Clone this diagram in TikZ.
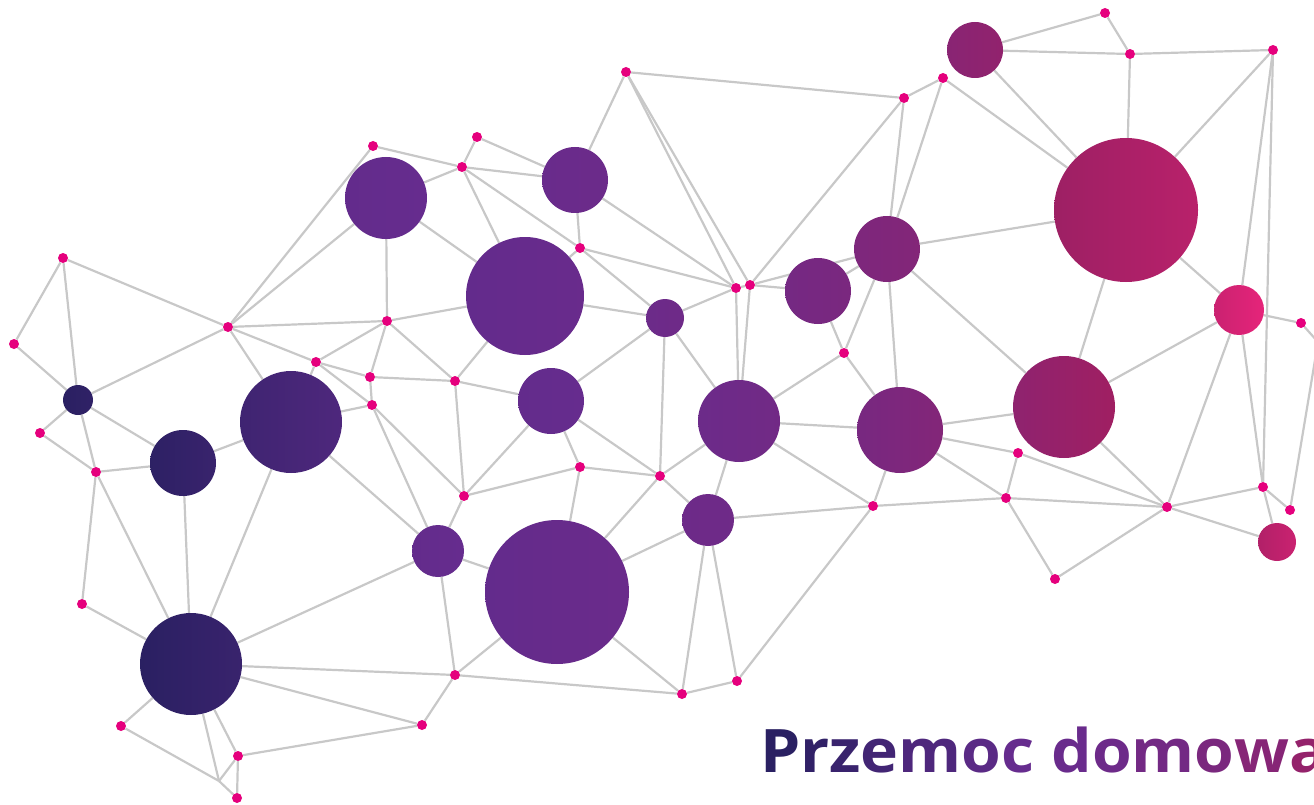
\documentclass[tikz,border=0pt]{standalone}
\usepackage{fontspec}
\newfontfamily\titlefont{Open Sans}
\usetikzlibrary{backgrounds}
\definecolor{dotpink}{HTML}{E5007D}
\definecolor{edgegrey}{HTML}{C8C8C8}
\definecolor{navy}{HTML}{2A2062}
\definecolor{violet}{HTML}{662C8E}
\definecolor{berry}{HTML}{A01F62}
\definecolor{rose}{HTML}{E6247A}

\begin{document}
\begin{tikzpicture}[x=1pt, y=-1pt,
    dot/.style={circle, fill=dotpink, inner sep=0pt, minimum size=10pt},
    hub/.style={circle, inner sep=0pt},
    link/.style={draw=edgegrey, line width=2.2pt}]
  \useasboundingbox (0,0) rectangle (1314,805);

  % hubs
  \node[hub, minimum size=30pt, left color=navy, right color=navy!90!violet] (h1) at (78,400) {};
  \node[hub, minimum size=66pt, left color=navy!95!violet, right color=navy!75!violet] (h2) at (183,463) {};
  \node[hub, minimum size=102pt, left color=navy!65!violet, right color=navy!40!violet] (h3) at (291,422) {};
  \node[hub, minimum size=102pt, left color=navy, right color=navy!75!violet] (h4) at (191,664) {};
  \node[hub, minimum size=82pt, left color=violet!95!navy, right color=violet] (h5) at (386,198) {};
  \node[hub, minimum size=118pt, left color=violet!95!navy, right color=violet!95!berry] (h6) at (525,296) {};
  \node[hub, minimum size=66pt, left color=violet!95!berry, right color=violet!90!berry] (h7) at (575,180) {};
  \node[hub, minimum size=66pt, left color=violet!95!navy, right color=violet] (h8) at (551,401) {};
  \node[hub, minimum size=38pt, left color=violet!90!berry, right color=violet!85!berry] (h9) at (665,318) {};
  \node[hub, minimum size=52pt, left color=violet!95!navy, right color=violet] (h10) at (438,551) {};
  \node[hub, minimum size=144pt, left color=violet!95!navy, right color=violet!92!berry] (h11) at (557,592) {};
  \node[hub, minimum size=52pt, left color=violet!88!berry, right color=violet!85!berry] (h12) at (708,520) {};
  \node[hub, minimum size=82pt, left color=violet!90!berry, right color=violet!80!berry] (h13) at (739,421) {};
  \node[hub, minimum size=66pt, left color=violet!75!berry, right color=violet!65!berry] (h14) at (818,291) {};
  \node[hub, minimum size=66pt, left color=violet!60!berry, right color=violet!50!berry] (h15) at (887,249) {};
  \node[hub, minimum size=86pt, left color=violet!70!berry, right color=violet!50!berry] (h16) at (900,430) {};
  \node[hub, minimum size=56pt, left color=violet!40!berry, right color=violet!25!berry] (h17) at (975,50) {};
  \node[hub, minimum size=144pt, left color=berry!95!violet, right color=berry!65!rose] (h18) at (1126,210) {};
  \node[hub, minimum size=102pt, left color=violet!30!berry, right color=berry] (h19) at (1064,407) {};
  \node[hub, minimum size=50pt, left color=berry!40!rose, right color=rose] (h20) at (1239,310) {};
  \node[hub, minimum size=38pt, left color=berry!75!rose, right color=berry!40!rose] (h21) at (1277,542) {};

  % small points
  \node[dot] (p1) at (63,258) {};
  \node[dot] (p2) at (14,344) {};
  \node[dot] (p3) at (228,327) {};
  \node[dot] (p4) at (387,321) {};
  \node[dot] (p5) at (316,362) {};
  \node[dot] (p6) at (370,377) {};
  \node[dot] (p7) at (372,405) {};
  \node[dot] (p8) at (40,433) {};
  \node[dot] (p9) at (96,472) {};
  \node[dot] (p10) at (82,604) {};
  \node[dot] (p11) at (121,726) {};
  \node[dot] (p12) at (238,756) {};
  \node[dot] (p13) at (237,798) {};
  \node[dot] (p14) at (455,675) {};
  \node[dot] (p15) at (422,725) {};
  \node[dot] (p16) at (373,146) {};
  \node[dot] (p17) at (477,137) {};
  \node[dot] (p18) at (462,167) {};
  \node[dot] (p19) at (580,248) {};
  \node[dot] (p20) at (736,288) {};
  \node[dot] (p21) at (750,285) {};
  \node[dot] (p22) at (455,381) {};
  \node[dot] (p23) at (464,496) {};
  \node[dot] (p24) at (580,467) {};
  \node[dot] (p25) at (660,476) {};
  \node[dot] (p26) at (682,694) {};
  \node[dot] (p27) at (737,681) {};
  \node[dot] (p28) at (626,72) {};
  \node[dot] (p29) at (904,98) {};
  \node[dot] (p30) at (943,78) {};
  \node[dot] (p31) at (844,353) {};
  \node[dot] (p32) at (1018,453) {};
  \node[dot] (p33) at (873,506) {};
  \node[dot] (p34) at (1006,498) {};
  \node[dot] (p35) at (1167,507) {};
  \node[dot] (p36) at (1055,579) {};
  \node[dot] (p37) at (1263,487) {};
  \node[dot] (p38) at (1290,510) {};
  \node[dot] (p39) at (1301,323) {};
  \node[dot] (p40) at (1105,13) {};
  \node[dot] (p41) at (1130,54) {};
  \node[dot] (p42) at (1273,50) {};
  \coordinate (j1) at (219,781);
  \coordinate (edge) at (1318,342);

  % links
  \begin{scope}[on background layer]
    \foreach \a/\b in {p1/p2, p1/h1, p1/p3, p2/h1, h1/p3, h1/p8, h1/p9, h1/h2, p8/p9, p9/h2,
        p9/p10, p9/h4, h2/h4, h3/h4, h2/h3, p3/h3, p3/p4, p3/p5, p3/p16, p3/h5,
        p4/h5, p4/h6, p4/p5, p4/p6, p4/p22, p5/p6, p5/p7, p5/h3, p6/p7, p6/p22,
        p7/h3, p7/p23, p7/h10, h3/h10, p22/p23, p22/h8, p22/h6, p23/h8, p23/p24, p23/h10,
        h10/h11, h10/p14, h10/h4, h4/p14, h4/p15, h4/p11, h4/p10, h4/j1, h4/p12, p11/j1,
        j1/p12, j1/p13, p12/p13, p12/p15, p14/p15, p14/h11, p14/p26, h11/p26, h11/p24, h11/p25,
        h11/h12, h8/p24, h8/p25, p24/p25, p25/h9, p25/h13, p25/h12, h12/p26, h12/p27, h12/h13,
        h12/p33, p26/p27, p27/p33, h13/h16, h13/p33, h13/p31, h13/p20, h13/p21, h9/h13, h8/h9,
        h6/h9, h9/p20, h6/p19, h6/p18, h6/h5, h5/p18, p16/p18, p17/p18, p17/h7, p18/h7,
        p18/p19, p19/h9, h7/p19, h7/p20, h7/p28, p19/p20, p28/p20, p28/p21, p28/p29, p29/p30,
        p29/p21, p29/h15, p30/h15, p30/h18, p21/h15, h14/h15, p21/h14, p20/p21, h14/p31, h15/p31,
        h15/h16, p31/h16, h15/h19, h15/h18, h17/p40, h17/p41, p40/p41, p41/p42, p41/h18, h17/h18,
        p42/h18, p42/h20, p42/p37, h18/h20, h18/h19, h16/h19, h16/p32, h16/p34, h16/p33, p32/p34,
        p32/p35, h19/p35, h19/h20, p34/p35, p34/p36, p33/p34, p35/p36, p35/h20, p35/p37, p35/h21,
        h20/p37, h20/p39, p37/p38, p37/h21, p39/edge, p38/edge}
      \draw[link] (\a) -- (\b);
  \end{scope}

  % title
  \node[anchor=base west, inner sep=0pt, font=\titlefont\bfseries\fontsize{60}{60}\selectfont] (title) at (760,772)
    {\scalebox{1.07}[1]{\textcolor{navy}{P}\textcolor{navy!88!violet}{r}\textcolor{navy!75!violet}{z}\textcolor{navy!60!violet}{e}\textcolor{navy!40!violet}{m}\textcolor{navy!20!violet}{o}\textcolor{violet}{c} \textcolor{violet!95!berry}{d}\textcolor{violet!88!berry}{o}\textcolor{violet!78!berry}{m}\textcolor{violet!65!berry}{o}\textcolor{violet!45!berry}{w}\textcolor{violet!20!berry}{a}}};
\end{tikzpicture}
\end{document}
